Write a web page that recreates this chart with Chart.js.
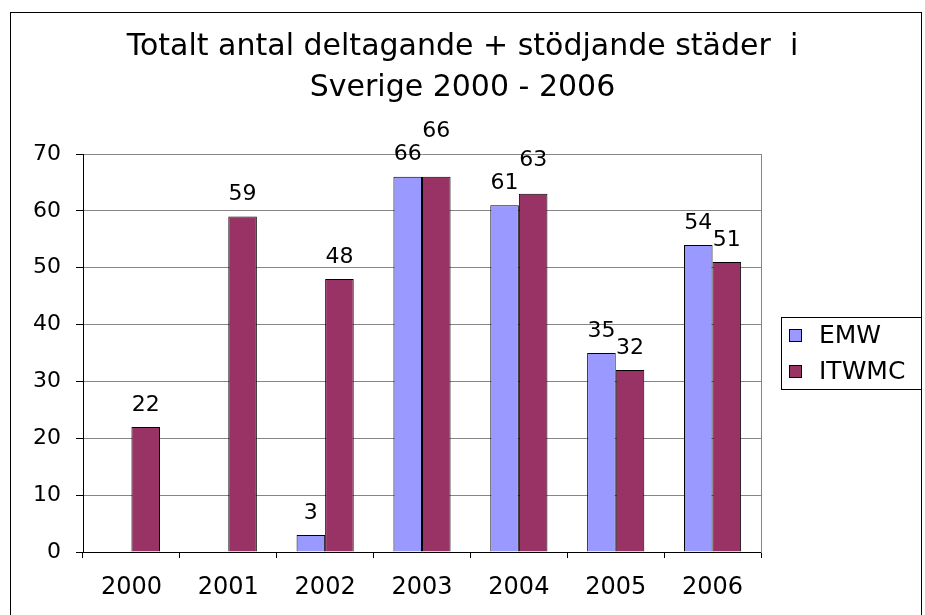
<!DOCTYPE html>
<html>
<head>
<meta charset="utf-8">
<script src="https://cdn.jsdelivr.net/npm/chart.js@4/dist/chart.umd.min.js"></script>
<style>
  html, body { margin: 0; background: #fff; overflow: hidden; }
  .frame { position: absolute; left: 10px; top: 12px; width: 910px; height: 700px; border: 1px solid #000; }
  .wrap { position: absolute; left: 0; top: 0; width: 925px; height: 615px; }
</style>
</head>
<body>
<div class="frame"></div>
<div class="wrap"><canvas id="chart" width="925" height="615"></canvas></div>
<script>
var years = ["2000", "2001", "2002", "2003", "2004", "2005", "2006"];
var emw = [null, null, 3, 66, 61, 35, 54];
var itwmc = [22, 59, 48, 66, 63, 32, 51];
var seriesNames = ["EMW", "ITWMC"];
var seriesColors = ["#9999ff", "#993366"];
var yTicks = [0, 10, 20, 30, 40, 50, 60, 70];
var titleLines = ["Totalt antal deltagande + stödjande städer  i", "Sverige 2000 - 2006"];

var fontFamily = "'DejaVu Sans', sans-serif";
Chart.defaults.font.family = fontFamily;
Chart.defaults.color = "#000";

// value above each bar, nudged up when the pair would collide
var valueLabels = {
  id: "valueLabels",
  afterDatasetsDraw: function (chart) {
    var ctx = chart.ctx;
    ctx.save();
    ctx.font = "22px " + fontFamily;
    ctx.fillStyle = "#000";
    ctx.textAlign = "center";
    ctx.textBaseline = "middle";
    years.forEach(function (year, i) {
      var prevY = null;
      chart.data.datasets.forEach(function (ds, d) {
        var v = ds.data[i];
        if (v == null) return;
        var bar = chart.getDatasetMeta(d).data[i];
        var ly = bar.y - 22;
        if (prevY !== null && Math.abs(prevY - ly) < 16) ly = prevY - 23;
        ctx.fillText(String(v), bar.x, ly);
        prevY = ly;
      });
    });
    ctx.restore();
  }
};

// boxed legend to the right of the plot
var boxLegend = {
  id: "boxLegend",
  afterDraw: function (chart) {
    var ctx = chart.ctx;
    var area = chart.chartArea;
    var left = Math.round(area.right) + 20;
    var right = 921;
    var rowH = 36;
    var n = chart.data.datasets.length;
    var mid = (area.top + area.bottom) / 2;
    var top = Math.round(mid - (n * rowH) / 2);
    ctx.save();
    ctx.lineWidth = 1;
    ctx.strokeStyle = "#000";
    ctx.strokeRect(left + 0.5, top + 0.5, right - left, n * rowH);
    ctx.font = "25px " + fontFamily;
    ctx.textBaseline = "middle";
    ctx.textAlign = "left";
    chart.data.datasets.forEach(function (ds, d) {
      var cy = top + rowH / 2 + d * rowH;
      ctx.fillStyle = ds.backgroundColor;
      ctx.fillRect(left + 8, Math.round(cy - 6), 12, 12);
      ctx.strokeRect(left + 8.5, Math.round(cy - 6) + 0.5, 12, 12);
      ctx.fillStyle = "#000";
      ctx.fillText(ds.label, left + 38, cy + 1);
    });
    ctx.restore();
  }
};

var chart = new Chart("chart", {
  type: "bar",
  data: {
    labels: years,
    datasets: [
      {
        label: seriesNames[0],
        data: emw,
        backgroundColor: seriesColors[0],
        borderColor: "#000",
        borderWidth: 1,
        categoryPercentage: 0.59,
        barPercentage: 1.0,
      },
      {
        label: seriesNames[1],
        data: itwmc,
        backgroundColor: seriesColors[1],
        borderColor: "#000",
        borderWidth: 1,
        categoryPercentage: 0.59,
        barPercentage: 1.0,
      },
    ],
  },
  options: {
    responsive: false,
    animation: false,
    layout: { padding: 0 },
    plugins: {
      legend: { display: false },
      tooltip: { enabled: false },
      title: {
        display: true,
        text: titleLines,
        color: "#000",
        font: { size: 30, weight: "normal", lineHeight: 1.367 },
        padding: { top: 27, bottom: 45 },
      },
    },
    scales: {
      x: {
        ticks: { color: "#000", font: { size: 24 }, padding: 15 },
        grid: { offset: true, drawOnChartArea: false, color: "#000", tickLength: 6 },
        border: { color: "#000" },
        afterFit: function (s) { s.height = 63; },
      },
      y: {
        min: 0,
        max: 70,
        afterBuildTicks: function (s) {
          s.ticks = yTicks.map(function (v) { return { value: v }; });
        },
        ticks: { color: "#000", font: { size: 22 }, padding: 15 },
        grid: { color: "#868686", tickColor: "#000", tickLength: 7 },
        border: { color: "#000" },
        afterFit: function (s) { s.width = 83; },
      },
      // empty right axis: gray plot edge + room for the legend
      y2: {
        position: "right",
        min: 0,
        max: 70,
        ticks: { display: false },
        grid: { drawOnChartArea: false, drawTicks: false },
        border: { color: "#868686" },
        afterFit: function (s) { s.width = 164; },
      },
    },
  },
  plugins: [valueLabels, boxLegend],
});
</script>
</body>
</html>
